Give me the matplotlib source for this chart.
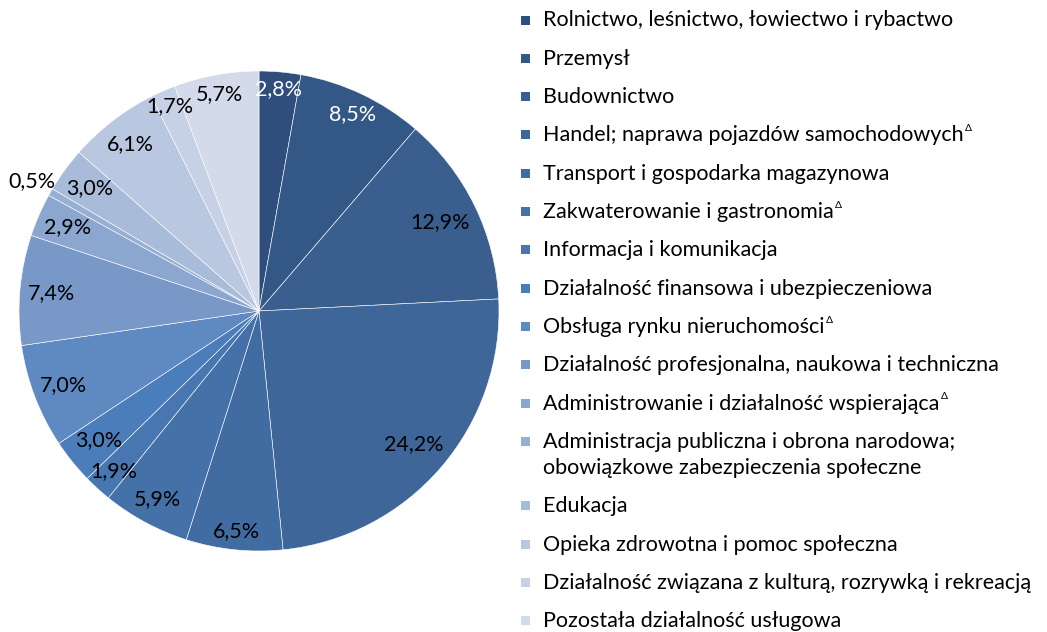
import matplotlib
matplotlib.use("Agg")
import matplotlib.pyplot as plt
from matplotlib.patches import Rectangle
from matplotlib.transforms import offset_copy
import numpy as np

plt.rcParams["font.family"] = ["Lato", "DejaVu Sans"]

categories = [
    "Rolnictwo, leśnictwo, łowiectwo i rybactwo",
    "Przemysł",
    "Budownictwo",
    "Handel; naprawa pojazdów samochodowych^",
    "Transport i gospodarka magazynowa",
    "Zakwaterowanie i gastronomia^",
    "Informacja i komunikacja",
    "Działalność finansowa i ubezpieczeniowa",
    "Obsługa rynku nieruchomości^",
    "Działalność profesjonalna, naukowa i techniczna",
    "Administrowanie i działalność wspierająca^",
    "Administracja publiczna i obrona narodowa;\nobowiązkowe zabezpieczenia społeczne",
    "Edukacja",
    "Opieka zdrowotna i pomoc społeczna",
    "Działalność związana z kulturą, rozrywką i rekreacją",
    "Pozostała działalność usługowa",
]
shares = [2.8, 8.5, 12.9, 24.2, 6.5, 5.9, 1.9, 3.0, 7.0, 7.4, 2.9, 0.5, 3.0, 6.1, 1.7, 5.7]

colors = ["#2f4e7b", "#345886", "#3a5f8f", "#3e6698", "#416ca1", "#4471a8",
          "#4776b0", "#4a7dba", "#5f89c1", "#7899c7", "#8ba6cf", "#97afd3",
          "#a8bcd9", "#b9c7e0", "#c6d1e6", "#d3daea"]
label_colors = ["white", "white"] + ["black"] * 14
label_radius = [0.93, 0.91, 0.84, 0.85, 0.92, 0.89, 0.90, 0.86, 0.87, 0.87,
                0.87, 1.09, 0.87, 0.88, 0.93, 0.92]

W, H = 1047, 632
fig = plt.figure(figsize=(W / 100, H / 100), dpi=100)
ax = fig.add_axes([19 / W, (H - 311 - 240) / H, 480 / W, 480 / H])

wedges, _ = ax.pie(shares, colors=colors, startangle=90, counterclock=False,
                   wedgeprops=dict(edgecolor="white", linewidth=0.4))
ax.set_xlim(-1, 1)
ax.set_ylim(-1, 1)
ax.set_aspect("equal")

for w, v, r, c in zip(wedges, shares, label_radius, label_colors):
    ang = np.deg2rad((w.theta1 + w.theta2) / 2)
    ax.text(r * np.cos(ang), r * np.sin(ang), f"{v:.1f}%".replace(".", ","),
            ha="center", va="center", fontsize=15.5, color=c, clip_on=False)

# legend, drawn by hand so the row spacing matches
renderer = fig.canvas.get_renderer()
row_step, line_step = 38.33, 26
y = 20
for w, lab in zip(wedges, categories):
    fig.add_artist(Rectangle((521 / W, 1 - (y + 4.5) / H), 9 / W, 9 / H,
                             transform=fig.transFigure,
                             facecolor=w.get_facecolor(), edgecolor="none"))
    lines = lab.split("\n")
    for k, line in enumerate(lines):
        mark = line.endswith("^")
        t = fig.text(543 / W, 1 - (y + k * line_step + 6.5) / H, line.rstrip("^"),
                     fontsize=15.5, ha="left", va="baseline", color="black")
        if mark:
            bb = t.get_window_extent(renderer)
            fig.text(bb.x1 / W + 1 / W, 1 - (y + k * line_step - 4) / H, "Δ",
                     fontsize=7.5, ha="left", va="baseline", color="black")
    y += row_step + (len(lines) - 1) * line_step

fig.savefig("out.png", dpi=100)
